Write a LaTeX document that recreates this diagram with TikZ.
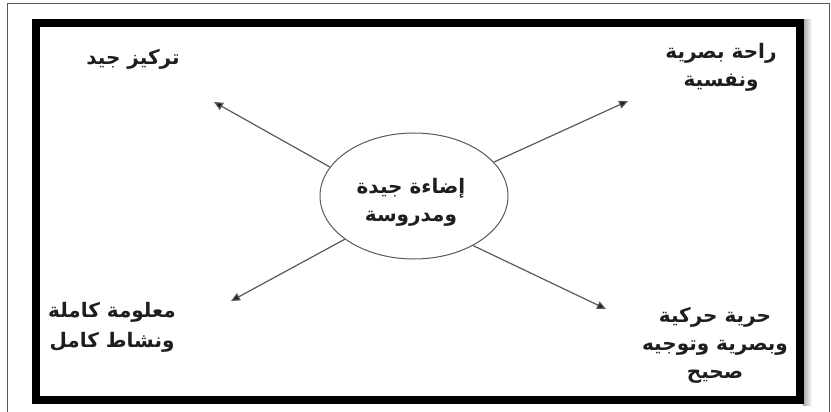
\documentclass[tikz,border=0pt]{standalone}
\usepackage{fontspec}
\usetikzlibrary{arrows.meta,shapes.geometric}
\TeXXeTstate=1
\newfontfamily\arabicfont[Script=Arabic]{DejaVu Sans}
\newcommand{\artxt}[1]{{\arabicfont\beginR #1\endR}}
\definecolor{inkc}{HTML}{1E1E1E}
\definecolor{linec}{HTML}{5A5A5A}
\tikzset{
  lbl/.style={align=center, text=inkc, inner sep=0pt, font=\fontsize{20}{28}\selectfont\bfseries},
  arr/.style={draw=linec, line width=1.2pt, -{Triangle[length=9pt,width=8pt,fill=inkc]}},
  frame/.style={draw=black, line width=7.5pt},
}
\begin{document}
\begin{tikzpicture}[x=1pt,y=-1pt]
\useasboundingbox (0,0) rectangle (831,412);
\fill[white] (0,0) rectangle (831,412);
% outer thin frame
\draw[gray!70!black, line width=1.2pt] (7.5,412) -- (7.5,3.5) -- (829.5,3.5) -- (829.5,412);
% shadow
\shade[left color=gray!70, right color=white] (803,20) rectangle (812,405);
% inner thick frame
\draw[frame] (36,23) rectangle (800,400);
% centre ellipse
\node[draw=linec, line width=1pt, ellipse, minimum width=188pt, minimum height=126pt, inner sep=0pt] (c) at (414,196) {};
\node[lbl] (ct) at (411,202) {\artxt{إضاءة جيدة}\\\artxt{ومدروسة}};
% tips
\coordinate (t1) at (214,102);
\coordinate (t2) at (628,101);
\coordinate (t3) at (231,301);
\coordinate (t4) at (606,309);
\draw[arr] (c.161) -- (t1);
\draw[arr] (c.23) -- (t2);
\draw[arr] (c.212) -- (t3);
\draw[arr] (c.320) -- (t4);
% labels
\node[lbl] (l1) at (133,59) {\artxt{تركيز جيد}};
\node[lbl] (l2) at (721,67) {\artxt{راحة بصرية}\\\artxt{ونفسية}};
\node[lbl, font=\fontsize{20}{30}\selectfont\bfseries] (l3) at (112,327) {\artxt{معلومة كاملة}\\\artxt{ونشاط كامل}};
\node[lbl] (l4) at (715,345) {\artxt{حرية حركية}\\\artxt{وبصرية وتوجيه}\\\artxt{صحيح}};
\end{tikzpicture}
\end{document}
